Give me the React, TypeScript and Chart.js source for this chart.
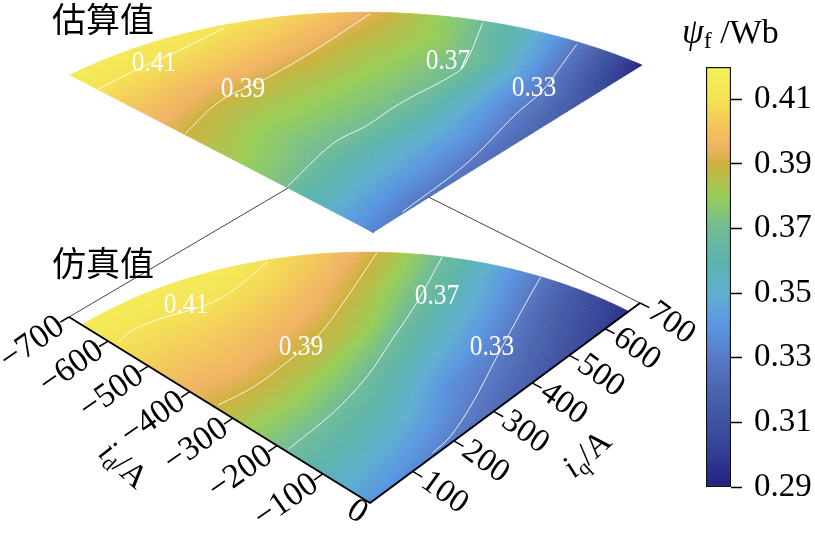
import React, { useEffect, useRef } from "react";
import { Chart, registerables } from "chart.js";

Chart.register(...registerables);

const SERIF = '"Liberation Serif", serif';
const CJK = '"Noto Sans CJK SC", sans-serif';

// ---------- data ----------
const idGrid = [0, 100, 200, 300, 400, 500, 600, 700]; // |id| in A, columns of the tables
const iqGrid = [0, 100, 200, 300, 400, 500, 600, 700]; // iq in A, rows of the tables
const fanRadius = 667;

const psiEstimated = [
  [0.335, 0.354, 0.374, 0.383, 0.39, 0.4, 0.41, 0.418],
  [0.3285, 0.35, 0.369, 0.378, 0.3865, 0.3985, 0.41, 0.418],
  [0.3265, 0.347, 0.3695, 0.3785, 0.387, 0.4, 0.4105, 0.418],
  [0.323, 0.346, 0.3695, 0.379, 0.388, 0.401, 0.4105, 0.419],
  [0.319, 0.34, 0.369, 0.379, 0.388, 0.401, 0.411, 0.419],
  [0.312, 0.336, 0.3665, 0.379, 0.3875, 0.4, 0.41, 0.418],
  [0.299, 0.327, 0.355, 0.3715, 0.383, 0.396, 0.407, 0.415],
  [0.288, 0.318, 0.345, 0.365, 0.38, 0.39, 0.4, 0.41],
];
const psiSimulated = [
  [0.342, 0.358, 0.372, 0.386, 0.395, 0.4035, 0.411, 0.418],
  [0.336, 0.356, 0.3715, 0.3865, 0.397, 0.4045, 0.4115, 0.419],
  [0.329, 0.351, 0.3685, 0.385, 0.396, 0.4055, 0.414, 0.42],
  [0.324, 0.338, 0.362, 0.3825, 0.3945, 0.405, 0.4135, 0.42],
  [0.316, 0.333, 0.354, 0.3745, 0.39, 0.402, 0.411, 0.418],
  [0.308, 0.325, 0.347, 0.367, 0.3845, 0.3985, 0.408, 0.415],
  [0.3, 0.316, 0.337, 0.358, 0.377, 0.39, 0.4, 0.41],
  [0.292, 0.308, 0.33, 0.35, 0.37, 0.384, 0.396, 0.406],
];

// contour lines as [id, iq] pairs
const estContour41 = [[-600, 2], [-600, 81], [-594, 176], [-593, 283]];
const estContour39 = [[-399, 2], [-429, 111], [-424, 215], [-430, 342], [-445, 488]];
const estContour37 = [[-177, 3], [-209, 140], [-206, 215], [-212, 301], [-209, 447], [-228, 494], [-283, 596]];
const estContour33 = [[-3, 69], [-19, 238], [-55, 404], [-69, 489], [-98, 579], [-121, 648]];
const simContour41 = [[-586, 10], [-592, 50], [-579, 108], [-550, 186], [-547, 247], [-562, 348]];
const simContour39 = [[-341, 8], [-332, 80], [-337, 165], [-347, 249], [-380, 350], [-437, 501]];
const simContour37 = [[-181, 6], [-190, 120], [-212, 226], [-245, 321], [-286, 437], [-343, 572]];
const simContour33 = [[-6, 154], [-11, 203], [-39, 293], [-87, 414], [-135, 537], [-175, 643]];

const idTicks = [0, -100, -200, -300, -400, -500, -600, -700];
const iqTicks = [100, 200, 300, 400, 500, 600, 700];
const barTicks = [0.29, 0.31, 0.33, 0.35, 0.37, 0.39, 0.41];
const barMin = 0.29;
const barMax = 0.42;

const colourValues = [0.29, 0.3, 0.31, 0.32, 0.33, 0.34, 0.35, 0.36, 0.37, 0.38, 0.39, 0.395, 0.4, 0.41, 0.42];
const colourRgb = [
  [35, 30, 125], [50, 62, 148], [62, 82, 160], [76, 100, 176], [88, 122, 198], [90, 150, 225],
  [96, 175, 208], [92, 180, 172], [112, 188, 150], [152, 206, 88], [205, 178, 62], [240, 178, 100],
  [242, 192, 92], [245, 226, 84], [240, 242, 88],
];

// ---------- helpers ----------
type Plane = { ox: number; oy: number; ax: number; ay: number; bx: number; by: number };
const planeSim: Plane = { ox: 370, oy: 503, ax: -301, ay: -186, bx: 270, by: -200 };
const planeEst: Plane = { ox: 373, oy: 232, ax: -316.4, ay: -163.9, bx: 280.8, by: -174.3 };

function project(p: Plane, id: number, iq: number) {
  const s = -id / 700;
  const t = iq / 700;
  const w = 1 + 0.117 * s + 0.127 * t;
  const u = (1.117 * s) / w;
  const v = (1.127 * t) / w;
  return { x: p.ox + u * p.ax + v * p.bx, y: p.oy + u * p.ay + v * p.by };
}

function psiAt(table: number[][], a: number, b: number) {
  const fa = Math.min(a / 100, 6.9999);
  const fb = Math.min(b / 100, 6.9999);
  const i = Math.floor(fa);
  const j = Math.floor(fb);
  const da = fa - i;
  const db = fb - j;
  return (
    table[j][i] * (1 - da) * (1 - db) + table[j][i + 1] * da * (1 - db) +
    table[j + 1][i] * (1 - da) * db + table[j + 1][i + 1] * da * db
  );
}

function colourOf(v: number) {
  let k = 0;
  while (k < colourValues.length - 2 && v > colourValues[k + 1]) k++;
  const f = Math.max(0, Math.min(1, (v - colourValues[k]) / (colourValues[k + 1] - colourValues[k])));
  const c = colourRgb[k].map((q, n) => Math.round(q + (colourRgb[k + 1][n] - q) * f));
  return `rgb(${c[0]},${c[1]},${c[2]})`;
}

function contourSet(p: Plane, line: number[][]) {
  return {
    data: line.map(([id, iq]) => project(p, id, iq)),
    showLine: true,
    borderColor: "rgba(255,255,255,0.85)",
    borderWidth: 1,
    pointRadius: 0,
    tension: 0.35,
    order: 1,
  };
}
function strokeSet(a: { x: number; y: number }, b: { x: number; y: number }, width: number, colour: string, order = 1) {
  return { data: [a, b], showLine: true, borderColor: colour, borderWidth: width, pointRadius: 0, order };
}
function surfaceSet(p: Plane, table: number[][], order: number) {
  return {
    data: iqGrid.flatMap((iq, j) =>
      idGrid.filter((a) => Math.hypot(a, iq) <= fanRadius).map((a) => ({ ...project(p, -a, iq), psi: table[j][a / 100] }))
    ),
    showLine: false,
    pointRadius: 0,
    order,
    surfacePlane: p,
    surfaceTable: table,
  };
}

const surfacePlugin = {
  id: "surface",
  afterDatasetDraw(chart: any, args: any) {
    const ds = chart.data.datasets[args.index];
    if (!ds.surfaceTable) return;
    const { x: sx, y: sy } = chart.scales;
    const ctx = chart.ctx;
    const nr = 110;
    const na = 170;
    const pt = (ir: number, ia: number) => {
      const r = (fanRadius * ir) / nr;
      const th = ((Math.PI / 2) * ia) / na;
      const q = project(ds.surfacePlane, -r * Math.cos(th), r * Math.sin(th));
      return [sx.getPixelForValue(q.x), sy.getPixelForValue(q.y)];
    };
    ctx.save();
    ctx.lineWidth = 0.7;
    for (let ir = 0; ir < nr; ir++) {
      for (let ia = 0; ia < na; ia++) {
        const rm = (fanRadius * (ir + 0.5)) / nr;
        const tm = ((Math.PI / 2) * (ia + 0.5)) / na;
        const col = colourOf(psiAt(ds.surfaceTable, rm * Math.cos(tm), rm * Math.sin(tm)));
        const c = [pt(ir, ia), pt(ir + 1, ia), pt(ir + 1, ia + 1), pt(ir, ia + 1)];
        ctx.beginPath();
        ctx.moveTo(c[0][0], c[0][1]);
        for (let n = 1; n < 4; n++) ctx.lineTo(c[n][0], c[n][1]);
        ctx.closePath();
        ctx.fillStyle = col;
        ctx.strokeStyle = col;
        ctx.fill();
        ctx.stroke();
      }
    }
    ctx.restore();
  },
};

const textPlugin = {
  id: "texts",
  afterDatasetsDraw(chart: any) {
    const { x: sx, y: sy } = chart.scales;
    const ctx = chart.ctx;
    const put = (s: string, x: number, y: number, font: string, colour = "#000", rot = 0, align: CanvasTextAlign = "center", squeeze = 1) => {
      ctx.save();
      ctx.translate(sx.getPixelForValue(x), sy.getPixelForValue(y));
      ctx.rotate((rot * Math.PI) / 180);
      ctx.scale(squeeze, 1);
      ctx.font = font;
      ctx.fillStyle = colour;
      ctx.textAlign = align;
      ctx.textBaseline = "middle";
      ctx.fillText(s, 0, 0);
      ctx.restore();
    };
    idTicks.forEach((v) => {
      const q = project(planeSim, v, -20);
      if (v === 0) put("0", 357, 512, `34px ${SERIF}`, "#000", 33);
      else put(`\u2212${-v}`, q.x + 1, q.y + 1, `34px ${SERIF}`, "#000", -35, "right");
    });
    iqTicks.forEach((v) => {
      const q = project(planeSim, 20, v);
      put(String(v), q.x + 2, q.y + 1, `33px ${SERIF}`, "#000", 36, "left");
    });
    // contour labels
    const lab = `30px ${SERIF}`;
    const white = "#fff";
    put("0.41", 154, 63, lab, white, 0, "center", 0.85);
    put("0.39", 243, 89, lab, white, 0, "center", 0.85);
    put("0.37", 448, 61, lab, white, 0, "center", 0.85);
    put("0.33", 534, 88, lab, white, 0, "center", 0.85);
    put("0.41", 186, 305, lab, white, 0, "center", 0.85);
    put("0.39", 301, 347, lab, white, 0, "center", 0.85);
    put("0.37", 437, 296, lab, white, 0, "center", 0.85);
    put("0.33", 492, 347, lab, white, 0, "center", 0.85);
    // panel titles
    put("估算值", 52, 19, `34px ${CJK}`, "#000", 0, "left");
    put("仿真值", 52, 263, `34px ${CJK}`, "#000", 0, "left");
    // axis names
    const run = (x: number, y: number, rot: number, parts: [string, string, number][]) => {
      ctx.save();
      ctx.translate(sx.getPixelForValue(x), sy.getPixelForValue(y));
      ctx.rotate((rot * Math.PI) / 180);
      ctx.fillStyle = "#000";
      ctx.textBaseline = "alphabetic";
      ctx.textAlign = "left";
      let cx = 0;
      parts.forEach(([s, font, dy]) => {
        ctx.font = font;
        ctx.fillText(s, cx, dy);
        cx += ctx.measureText(s).width;
      });
      ctx.restore();
    };
    run(97, 455, 42, [["i", `italic 33px ${SERIF}`, 0], ["d", `21px ${SERIF}`, 5], ["/A", `33px ${SERIF}`, 0]]);
    run(574, 479, -42, [["i", `italic 33px ${SERIF}`, 0], ["q", `21px ${SERIF}`, 5], ["/A", `33px ${SERIF}`, 0]]);
    // colour bar title
    run(682, 43, 0, [["\u03C8", `italic 35px ${SERIF}`, 0], ["f", `24px ${SERIF}`, 5], [" /Wb", `34px ${SERIF}`, 0]]);
  },
};

export default function App() {
  const mainRef = useRef<HTMLCanvasElement>(null);
  const barRef = useRef<HTMLCanvasElement>(null);

  useEffect(() => {
    const o = project(planeSim, 0, 0);
    const idEnd = project(planeSim, -700, 0);
    const iqEnd = project(planeSim, 0, 700);
    const back = project(planeSim, -700, 700);
    const ticks = [
      ...idTicks.filter((v) => v !== 0).map((v) => strokeSet(project(planeSim, v, 0), project(planeSim, v, -20), 1.5, "#000")),
      ...iqTicks.map((v) => strokeSet(project(planeSim, 0, v), project(planeSim, 20, v), 1.5, "#000")),
    ];
    const main = new Chart(mainRef.current!, {
      type: "scatter",
      data: {
        datasets: [
          strokeSet(idEnd, back, 1, "#444", 20),
          strokeSet(iqEnd, back, 1, "#444", 20),
          surfaceSet(planeEst, psiEstimated, 10),
          surfaceSet(planeSim, psiSimulated, 9),
          contourSet(planeEst, estContour41),
          contourSet(planeEst, estContour39),
          contourSet(planeEst, estContour37),
          contourSet(planeEst, estContour33),
          contourSet(planeSim, simContour41),
          contourSet(planeSim, simContour39),
          contourSet(planeSim, simContour37),
          contourSet(planeSim, simContour33),
          strokeSet(o, idEnd, 2, "#000"),
          strokeSet(o, iqEnd, 2, "#000"),
          ...ticks,
        ] as any,
      },
      options: {
        responsive: false,
        animation: false,
        layout: { padding: 0 },
        plugins: { legend: { display: false }, tooltip: { enabled: false } },
        scales: {
          x: { type: "linear", min: 0, max: 815, display: false },
          y: { type: "linear", min: 0, max: 533, reverse: true, display: false },
        },
      },
      plugins: [surfacePlugin, textPlugin],
    } as any);

    const bar = new Chart(barRef.current!, {
      type: "bar",
      data: {
        labels: ["\u03C8f"],
        datasets: [
          {
            data: [[barMin, barMax]],
            barPercentage: 1,
            categoryPercentage: 1,
            borderColor: "#111",
            borderWidth: 1.5,
            borderSkipped: false,
            backgroundColor: (c: any) => {
              const area = c.chart.chartArea;
              if (!area) return "#888";
              const g = c.chart.ctx.createLinearGradient(0, area.bottom, 0, area.top);
              colourValues.forEach((v, n) => {
                const rgb = colourRgb[n];
                g.addColorStop((v - barMin) / (barMax - barMin), `rgb(${rgb[0]},${rgb[1]},${rgb[2]})`);
              });
              return g;
            },
          },
        ] as any,
      },
      options: {
        responsive: false,
        animation: false,
        layout: { padding: { left: 46, top: 67, bottom: 46, right: 0 } },
        plugins: { legend: { display: false }, tooltip: { enabled: false } },
        scales: {
          x: { display: false },
          y: {
            position: "right",
            min: barMin,
            max: barMax,
            afterFit: (s: any) => { s.width = 84; },
            afterBuildTicks: (s: any) => { s.ticks = barTicks.map((value) => ({ value })); },
            border: { display: false },
            grid: { drawOnChartArea: false, drawTicks: true, tickLength: 11, tickWidth: 1.5, tickColor: "#000" },
            ticks: { padding: 12, color: "#000", font: { family: "Liberation Serif", size: 33 }, callback: (v: any) => Number(v).toFixed(2) },
          },
        },
      },
    } as any);
    return () => {
      main.destroy();
      bar.destroy();
    };
  }, []);

  return (
    <div style={{ position: "absolute", left: 0, top: 0, width: 815, height: 533 }}>
      <canvas ref={mainRef} width={815} height={533} style={{ position: "absolute", left: 0, top: 0, display: "block" }} />
      <canvas ref={barRef} width={155} height={533} style={{ position: "absolute", left: 660, top: 0, display: "block" }} />
    </div>
  );
}
